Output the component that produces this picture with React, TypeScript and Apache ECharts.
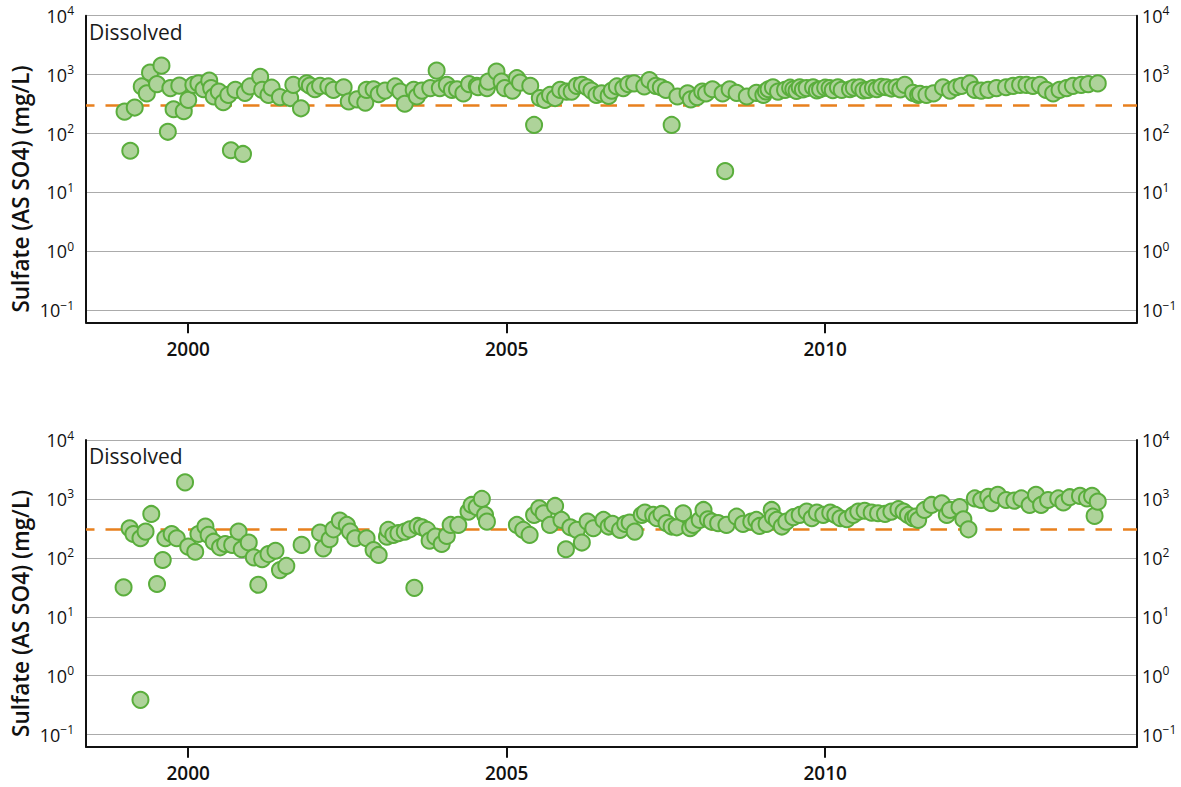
import React, { useEffect, useRef } from 'react';
import * as echarts from 'echarts';

// ---- data (decimal years, mg/L) ----
const xTickYears = [2000, 2005, 2010];
const guidelineValue = 300;
const panelLabel = 'Dissolved';
const yAxisTitle = 'Sulfate (AS SO4) (mg/L)';

const upperDates = [
  1999.00, 1999.09, 1999.16, 1999.27, 1999.35, 1999.40, 1999.51, 1999.58, 1999.68, 1999.72,
  1999.77, 1999.86, 1999.93, 2000.00, 2000.08, 2000.16, 2000.24, 2000.33, 2000.36, 2000.40,
  2000.48, 2000.55, 2000.63, 2000.67, 2000.74, 2000.86, 2000.89, 2000.97, 2001.13, 2001.16,
  2001.26, 2001.31, 2001.44, 2001.60, 2001.65, 2001.77, 2001.86, 2001.91, 2001.99, 2002.07,
  2002.20, 2002.28, 2002.44, 2002.52, 2002.65, 2002.78, 2002.80, 2002.91, 2002.99, 2003.09,
  2003.25, 2003.33, 2003.40, 2003.54, 2003.59, 2003.67, 2003.80, 2003.90, 2003.95, 2004.06,
  2004.14, 2004.22, 2004.32, 2004.41, 2004.53, 2004.55, 2004.69, 2004.71, 2004.84, 2004.92,
  2004.97, 2005.09, 2005.16, 2005.21, 2005.37, 2005.43, 2005.52, 2005.60, 2005.68, 2005.76,
  2005.84, 2005.94, 2006.02, 2006.10, 2006.18, 2006.26, 2006.33, 2006.41, 2006.49, 2006.60,
  2006.65, 2006.73, 2006.83, 2006.91, 2007.00, 2007.16, 2007.24, 2007.34, 2007.42, 2007.50,
  2007.59, 2007.68, 2007.84, 2007.89, 2007.99, 2008.07, 2008.13, 2008.23, 2008.39, 2008.43,
  2008.50, 2008.61, 2008.77, 2008.92, 2009.03, 2009.07, 2009.11, 2009.18, 2009.26, 2009.37,
  2009.45, 2009.50, 2009.55, 2009.60, 2009.65, 2009.71, 2009.81, 2009.87, 2009.92, 2010.00,
  2010.07, 2010.12, 2010.20, 2010.26, 2010.39, 2010.45, 2010.54, 2010.60, 2010.67, 2010.75,
  2010.81, 2010.88, 2010.96, 2011.04, 2011.12, 2011.18, 2011.25, 2011.38, 2011.46, 2011.49,
  2011.59, 2011.70, 2011.85, 2011.96, 2012.06, 2012.14, 2012.27, 2012.35, 2012.45, 2012.56,
  2012.69, 2012.84, 2012.95, 2013.06, 2013.16, 2013.26, 2013.37, 2013.47, 2013.58, 2013.68,
  2013.79, 2013.89, 2014.02, 2014.13, 2014.28,
];
const upperValues = [
  235, 51, 276, 630, 480, 1080, 690, 1420, 107, 590,
  258, 650, 240, 372, 670, 710, 565, 790, 590, 425,
  515, 340, 452, 52, 550, 45, 490, 630, 920, 550,
  452, 600, 415, 400, 670, 268, 710, 650, 565, 645,
  630, 550, 610, 350, 380, 335, 550, 565, 465, 535,
  630, 515, 320, 550, 425, 535, 590, 1170, 590, 670,
  550, 565, 480, 690, 645, 610, 590, 760, 1125, 760,
  590, 535, 870, 730, 645, 140, 400, 372, 452, 400,
  550, 515, 515, 645, 670, 610, 535, 452, 480, 435,
  535, 630, 590, 690, 710, 630, 810, 645, 610, 550,
  140, 425, 480, 380, 415, 515, 480, 565, 480, 23,
  565, 490, 425, 490, 452, 520, 565, 610, 515, 550,
  600, 565, 530, 610, 560, 590, 610, 540, 565, 600,
  590, 545, 610, 550, 565, 600, 610, 540, 550, 590,
  565, 620, 610, 580, 610, 560, 670, 490, 452, 470,
  452, 480, 610, 535, 610, 645, 710, 550, 535, 550,
  590, 610, 645, 670, 670, 645, 670, 550, 480, 550,
  590, 645, 670, 690, 710,
];

const lowerDates = [
  1998.985, 1999.08, 1999.14, 1999.25, 1999.25, 1999.33, 1999.42, 1999.51, 1999.60, 1999.64,
  1999.74, 1999.82, 1999.95, 2000.00, 2000.11, 2000.16, 2000.27, 2000.32, 2000.40, 2000.50,
  2000.58, 2000.69, 2000.79, 2000.84, 2000.95, 2001.03, 2001.10, 2001.16, 2001.26, 2001.37,
  2001.44, 2001.54, 2001.78, 2002.07, 2002.12, 2002.22, 2002.28, 2002.38, 2002.49, 2002.54,
  2002.62, 2002.80, 2002.91, 2002.99, 2003.12, 2003.14, 2003.22, 2003.30, 2003.40, 2003.48,
  2003.55, 2003.60, 2003.67, 2003.75, 2003.79, 2003.88, 2003.98, 2004.06, 2004.12, 2004.24,
  2004.40, 2004.45, 2004.53, 2004.61, 2004.66, 2004.69, 2005.16, 2005.26, 2005.36, 2005.43,
  2005.51, 2005.58, 2005.68, 2005.76, 2005.86, 2005.93, 2006.00, 2006.10, 2006.18, 2006.27,
  2006.36, 2006.52, 2006.60, 2006.66, 2006.78, 2006.86, 2006.93, 2007.01, 2007.12, 2007.17,
  2007.30, 2007.36, 2007.43, 2007.51, 2007.59, 2007.67, 2007.77, 2007.88, 2007.93, 2008.03,
  2008.09, 2008.16, 2008.22, 2008.32, 2008.45, 2008.61, 2008.71, 2008.84, 2008.92, 2008.97,
  2009.08, 2009.16, 2009.18, 2009.24, 2009.32, 2009.39, 2009.50, 2009.60, 2009.71, 2009.79,
  2009.87, 2009.97, 2010.08, 2010.16, 2010.24, 2010.34, 2010.44, 2010.52, 2010.62, 2010.73,
  2010.83, 2010.94, 2011.04, 2011.15, 2011.23, 2011.30, 2011.38, 2011.42, 2011.46, 2011.56,
  2011.67, 2011.83, 2011.91, 2011.96, 2012.11, 2012.17, 2012.25, 2012.35, 2012.45, 2012.56,
  2012.61, 2012.71, 2012.84, 2012.97, 2013.08, 2013.21, 2013.31, 2013.39, 2013.50, 2013.66,
  2013.74, 2013.84, 2014.00, 2014.11, 2014.19, 2014.23, 2014.28,
];
const lowerValues = [
  31.6, 318, 254, 0.39, 215, 279, 556, 36, 92, 215,
  254, 215, 1910, 155, 127, 254, 340, 245, 188, 151,
  172, 166, 279, 140, 182, 102, 35, 95, 116, 132,
  62, 73, 166, 268, 145, 207, 305, 428, 362, 279,
  215, 215, 136, 112, 229, 298, 245, 262, 279, 305,
  31, 348, 330, 298, 196, 229, 172, 236, 362, 362,
  610, 790, 725, 1000, 535, 412, 362, 298, 245, 535,
  695, 572, 362, 760, 440, 140, 330, 298, 182, 412,
  318, 440, 340, 377, 298, 377, 397, 279, 535, 585,
  535, 470, 556, 388, 340, 330, 572, 318, 362, 440,
  650, 452, 412, 388, 362, 500, 377, 412, 440, 348,
  377, 650, 500, 440, 340, 412, 490, 535, 610, 470,
  585, 535, 585, 535, 470, 452, 535, 610, 630, 585,
  572, 556, 610, 670, 610, 535, 470, 500, 440, 650,
  790, 845, 535, 650, 725, 452, 305, 1020, 960, 1090,
  845, 1170, 960, 935, 1020, 790, 1170, 790, 960, 1020,
  870, 1070, 1125, 1020, 1125, 515, 900,
];

// ---- layout / style constants ----
const X_MIN = 1998.395;
const X_MAX = 2014.896;
const Y_MIN = 0.0625;
const Y_MAX = 10000;
const FONT = '"Open Sans", "DejaVu Sans", sans-serif';
const INK = '#111111';
const PANELS = [
  { top: 15.7, height: 306.6 },
  { top: 440, height: 306.7 },
];

const expText = (e: number) => (e < 0 ? '\u2212' + Math.abs(e) : String(e));

function yAxisCfg(gridIndex: number, side: 'left' | 'right') {
  return {
    type: 'log',
    logBase: 10,
    gridIndex,
    position: side,
    min: Y_MIN,
    max: Y_MAX,
    axisLine: { show: true, lineStyle: { color: INK, width: 2 } },
    axisTick: { show: false },
    splitLine: {
      show: side === 'left',
      lineStyle: { color: '#ababab', width: 1.2 },
    },
    minorSplitLine: { show: false },
    axisLabel: {
      show: true,
      margin: side === 'left' ? 12 : 5,
      showMinLabel: false,
      color: INK,
      formatter: (v: number) => `{b|10}{e|${expText(Math.round(Math.log10(v)))}}`,
      rich: {
        b: { fontSize: 18, fontFamily: FONT, color: INK, lineHeight: 22, verticalAlign: 'middle' },
        e: { fontSize: 12, fontFamily: FONT, color: INK, lineHeight: 13, verticalAlign: 'top' },
      },
    },
  };
}

function xAxisCfg(gridIndex: number) {
  return {
    type: 'value',
    gridIndex,
    min: X_MIN,
    max: X_MAX,
    axisLine: { show: true, onZero: false, lineStyle: { color: INK, width: 2 } },
    axisTick: {
      show: true,
      customValues: xTickYears,
      length: 11,
      lineStyle: { color: INK, width: 2 },
    },
    axisLabel: {
      customValues: xTickYears,
      formatter: (v: number) => String(v),
      fontSize: 19,
      fontWeight: 600,
      fontFamily: FONT,
      color: INK,
      margin: 17,
    },
    splitLine: { show: false },
  };
}

function scatterSeries(idx: number, dates: number[], values: number[]) {
  return {
    type: 'scatter',
    xAxisIndex: idx,
    yAxisIndex: idx * 2,
    z: 3,
    data: dates.map((d, i) => [d, values[i]]),
    symbol: 'circle',
    symbolSize: 16,
    itemStyle: { color: '#aed39a', borderColor: '#5aae3c', borderWidth: 2, opacity: 1 },
    emphasis: { disabled: true },
    markLine: {
      silent: true,
      z: 1,
      symbol: 'none',
      label: { show: false },
      lineStyle: { color: '#e8801e', width: 2.5, type: [16.5, 11], dashOffset: 7.5 },
      data: [{ yAxis: guidelineValue }],
    },
  };
}

export default function App() {
  const ref = useRef<HTMLDivElement>(null);

  useEffect(() => {
    if (!ref.current) return;
    const chart = echarts.init(ref.current, undefined, { renderer: 'svg' });

    const graphics: any[] = [];
    PANELS.forEach((p) => {
      graphics.push({
        type: 'text',
        x: 89,
        y: p.top + 16,
        style: {
          text: panelLabel,
          fontSize: 21,
          fontWeight: 400,
          fontFamily: FONT,
          fill: '#1a1a1a',
          align: 'left',
          verticalAlign: 'middle',
        },
      });
      graphics.push({
        type: 'text',
        x: 20.5,
        y: p.top + p.height / 2 + 20,
        rotation: Math.PI / 2,
        style: {
          text: yAxisTitle,
          fontSize: 22.5,
          fontWeight: 600,
          fontFamily: FONT,
          fill: INK,
          align: 'center',
          verticalAlign: 'middle',
        },
      });
    });

    chart.setOption({
      animation: false,
      backgroundColor: '#ffffff',
      grid: PANELS.map((p) => ({ left: 86, right: 44, top: p.top, height: p.height, containLabel: false })),
      xAxis: [xAxisCfg(0), xAxisCfg(1)],
      yAxis: [yAxisCfg(0, 'left'), yAxisCfg(0, 'right'), yAxisCfg(1, 'left'), yAxisCfg(1, 'right')],
      series: [scatterSeries(0, upperDates, upperValues), scatterSeries(1, lowerDates, lowerValues)],
      graphic: graphics,
    });

    return () => chart.dispose();
  }, []);

  return (
    <div
      ref={ref}
      style={{ position: 'absolute', left: 0, top: 0, width: 1181, height: 787 }}
    />
  );
}
